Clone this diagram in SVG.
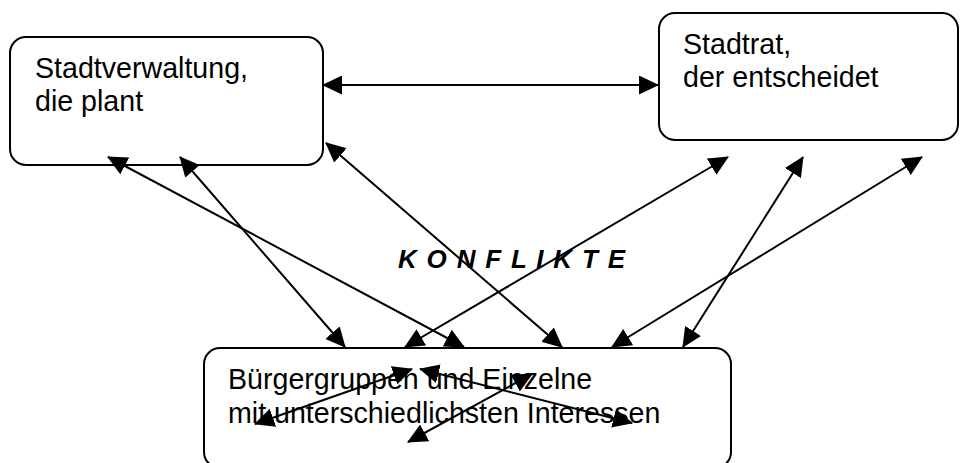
<svg xmlns="http://www.w3.org/2000/svg" width="960" height="463" viewBox="0 0 960 463">
  <style>
    .box { fill: #ffffff; stroke: #000000; stroke-width: 2; }
    .label { font-family: "Liberation Sans", Arial, sans-serif; font-size: 28.6px; fill: #000000; }
    .title { font-family: "Liberation Sans", Arial, sans-serif; font-size: 26px; font-weight: bold; font-style: italic; fill: #000000; }
    .link { fill: none; stroke: #000000; stroke-width: 2; marker-start: url(#head); marker-end: url(#head); }
  </style>
  <defs>
    <!-- filled triangular head, used at both ends of every connector -->
    <marker id="head" viewBox="0 0 20 19" refX="19" refY="9.5" markerWidth="20" markerHeight="19" markerUnits="userSpaceOnUse" orient="auto-start-reverse">
      <path d="M0,0 L20,9.5 L0,19 Z" fill="#000000"/>
    </marker>
  </defs>
  <rect width="960" height="463" fill="#ffffff"/>

  <g id="stadtverwaltung">
    <rect class="box" x="10" y="37" width="313" height="128" rx="16" ry="16"/>
    <text class="label" x="35" y="78">Stadtverwaltung,</text>
    <text class="label" x="35" y="111">die plant</text>
  </g>

  <g id="stadtrat">
    <rect class="box" x="659" y="13" width="299" height="127" rx="16" ry="16"/>
    <text class="label" x="683" y="54">Stadtrat,</text>
    <text class="label" x="683" y="87">der entscheidet</text>
  </g>

  <g id="buergergruppen">
    <rect class="box" x="204" y="348" width="527" height="120" rx="16" ry="16"/>
    <text class="label" x="228" y="389">Bürgergruppen und Einzelne</text>
    <text class="label" x="228" y="423">mit unterschiedlichsten Interessen</text>
  </g>

  <g id="konflikte">
    <text class="title" x="398" y="268" textLength="227" lengthAdjust="spacing">K O N F L I K T E</text>
  </g>

  <g id="connectors">
    <line class="link" x1="323" y1="85" x2="658" y2="85"/>
    <line class="link" x1="108" y1="157" x2="464" y2="347"/>
    <line class="link" x1="180" y1="157" x2="345" y2="347"/>
    <line class="link" x1="326" y1="143" x2="562" y2="347"/>
    <line class="link" x1="728" y1="157" x2="405" y2="347"/>
    <line class="link" x1="803" y1="157" x2="683" y2="347"/>
    <line class="link" x1="922" y1="157" x2="612" y2="347"/>
    <line class="link" x1="255" y1="424" x2="412" y2="369"/>
    <line class="link" x1="420" y1="369" x2="632" y2="423"/>
    <line class="link" x1="408" y1="442" x2="532" y2="374"/>
  </g>
</svg>
